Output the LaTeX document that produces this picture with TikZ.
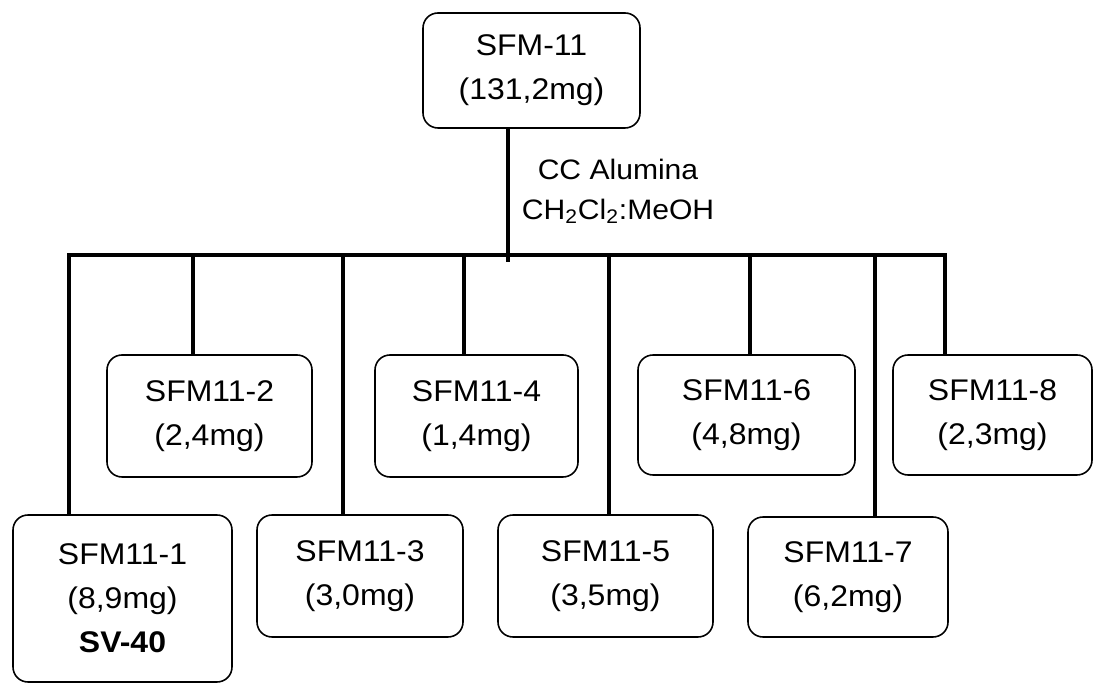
\documentclass[tikz,border=0pt]{standalone}
\usepackage{fontspec}
\setmainfont{Liberation Sans}[FakeStretch=1.07]
\usetikzlibrary{positioning, calc}

\begin{document}
\begin{tikzpicture}[
          box/.style={draw, rounded corners=0.3cm,
                      line width=0.9pt, align=center,
                      inner sep=0pt,
                      font=\fontsize{17}{25}\selectfont},
          trunk/.style={line width=2.8pt},
          cond/.style={align=center,
                       font=\fontsize{16}{22.5}\selectfont},
      ]
      \useasboundingbox (0,0) rectangle (21.86,13.66);

      % parent fraction
      \node[box, minimum width=4.34cm, minimum height=2.3cm] (top)
          at (10.63, 12.25) {SFM-11\\(131,2mg)};

      % column conditions
      \node[cond] (cc) at (12.36, 9.83)
          {CC Alumina\\CH\textsubscript{2}Cl\textsubscript{2}:MeOH};

      % sub-fractions, lower row
      \node[box, minimum width=4.38cm, minimum height=3.34cm] (f1)
          at (2.45, 1.69) {SFM11-1\\(8,9mg)\\\textbf{SV-40}};
      \node[box, minimum width=4.12cm, minimum height=2.44cm] (f3)
          at (7.20, 2.14) {SFM11-3\\(3,0mg)};
      \node[box, minimum width=4.30cm, minimum height=2.44cm] (f5)
          at (12.11, 2.14) {SFM11-5\\(3,5mg)};
      \node[box, minimum width=4.00cm, minimum height=2.40cm] (f7)
          at (16.96, 2.12) {SFM11-7\\(6,2mg)};

      % sub-fractions, upper row
      \node[box, minimum width=4.10cm, minimum height=2.44cm] (f2)
          at (4.19, 5.34) {SFM11-2\\(2,4mg)};
      \node[box, minimum width=4.06cm, minimum height=2.44cm] (f4)
          at (9.53, 5.34) {SFM11-4\\(1,4mg)};
      \node[box, minimum width=4.34cm, minimum height=2.40cm] (f6)
          at (14.93, 5.36) {SFM11-6\\(4,8mg)};
      \node[box, minimum width=3.98cm, minimum height=2.40cm] (f8)
          at (19.85, 5.36) {SFM11-8\\(2,3mg)};

      % branch points on the bar
      \coordinate (b1) at (1.38, 8.56);
      \coordinate (b2) at (3.86, 8.56);
      \coordinate (b3) at (6.86, 8.56);
      \coordinate (b4) at (9.28, 8.56);
      \coordinate (b5) at (12.18, 8.56);
      \coordinate (b6) at (15.00, 8.56);
      \coordinate (b7) at (17.50, 8.56);
      \coordinate (b8) at (18.90, 8.56);
      \coordinate (stem) at (10.16, 8.42);

      % tree lines
      \draw[trunk] (top.south -| stem) -- (stem);
      \draw[trunk] (b1 |- f1.north) -- (b1) -- (b8)
          -- (b8 |- f8.north);
      \draw[trunk] (b2) -- (b2 |- f2.north);
      \draw[trunk] (b3) -- (b3 |- f3.north);
      \draw[trunk] (b4) -- (b4 |- f4.north);
      \draw[trunk] (b5) -- (b5 |- f5.north);
      \draw[trunk] (b6) -- (b6 |- f6.north);
      \draw[trunk] (b7) -- (b7 |- f7.north);
      \end{tikzpicture}
\end{document}
